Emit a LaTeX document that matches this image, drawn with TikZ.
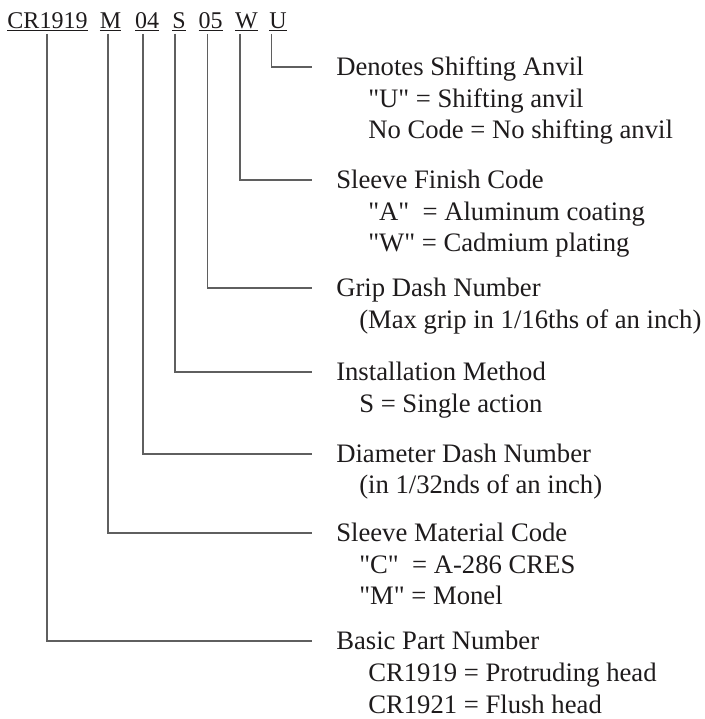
\documentclass[tikz,border=0pt]{standalone}
\usepackage{fontspec}
\setmainfont{Liberation Serif}[Ligatures=TeXOff]
\definecolor{ink}{RGB}{30,27,28}
\definecolor{leadgray}{RGB}{95,95,95}
\tikzset{
  code/.style={anchor=base, inner sep=0pt, text=ink, font=\fontsize{18}{21}\selectfont},
  head/.style={anchor=base west, inner sep=0pt, text=ink, font=\fontsize{20}{24}\selectfont, text height=14.4pt, text depth=2.4pt},
  sub/.style={anchor=base west, inner sep=0pt, text=ink, font=\fontsize{20}{24}\selectfont},
  lead/.style={draw=leadgray, line width=0.8pt, shorten <=2pt, shorten >=18pt},
}
\begin{document}
\begin{tikzpicture}[x=0.75pt,y=0.75pt,yscale=-1,xscale=1]
        \useasboundingbox (0,0) rectangle (705,719);
        % Part number
        \node[code] (cr) at (47.5,28) {\underline{CR1919}};
        \node[code] (mat) at (110.5,28) {\underline{M}};
        \node[code] (dia) at (147,28) {\underline{04}};
        \node[code] (inst) at (179,28) {\underline{S}};
        \node[code] (grip) at (210.5,28) {\underline{05}};
        \node[code] (fin) at (246.5,28) {\underline{W}};
        \node[code] (anv) at (278,28) {\underline{U}};

        % Text Node
        \node[head] (hanv) at (336,75) {Denotes Shifting Anvil};
        \node[sub] (anv1) at (368,107) {"U" = Shifting anvil};
        \node[sub] (anv2) at (368,138) {No Code = No shifting anvil};
        % Text Node
        \node[head] (hfin) at (336,188) {Sleeve Finish Code};
        \node[sub] (fin1) at (368,220) {"A"~\ = Aluminum coating};
        \node[sub] (fin2) at (368,251) {"W" = Cadmium plating};
        % Text Node
        \node[head] (hgrip) at (336,296) {Grip Dash Number};
        \node[sub] (grip1) at (359,328) {(Max grip in 1/16ths of an inch)};
        % Text Node
        \node[head] (hinst) at (336,380) {Installation Method};
        \node[sub] (inst1) at (359,412) {S = Single action};
        % Text Node
        \node[head] (hdia) at (336,462) {Diameter Dash Number};
        \node[sub] (dia1) at (359,493) {(in 1/32nds of an inch)};
        % Text Node
        \node[head] (hmat) at (336,541) {Sleeve Material Code};
        \node[sub] (mat1) at (359,573) {"C"~\ = A-286 CRES};
        \node[sub] (mat2) at (359,604) {"M" = Monel};
        % Text Node
        \node[head] (hcr) at (336,649) {Basic Part Number};
        \node[sub] (cr1) at (368,681) {CR1919 = Protruding head};
        \node[sub] (cr2) at (368,713) {CR1921 = Flush head};

        % Leader lines
        \draw[lead] ([xshift=-5.2pt]anv.south) |- (hanv);
        \draw[lead] ([xshift=-4.9pt]fin.south) |- (hfin);
        \draw[lead] ([xshift=-2.6pt]grip.south) |- (hgrip);
        \draw[lead] ([xshift=-3pt]inst.south) |- (hinst);
        \draw[lead] ([xshift=-3pt]dia.south) |- (hdia);
        \draw[lead] ([xshift=-1.9pt]mat.south) |- (hmat);
        \draw[lead] ([xshift=-0.4pt]cr.south) |- (hcr);
    \end{tikzpicture}
\end{document}
